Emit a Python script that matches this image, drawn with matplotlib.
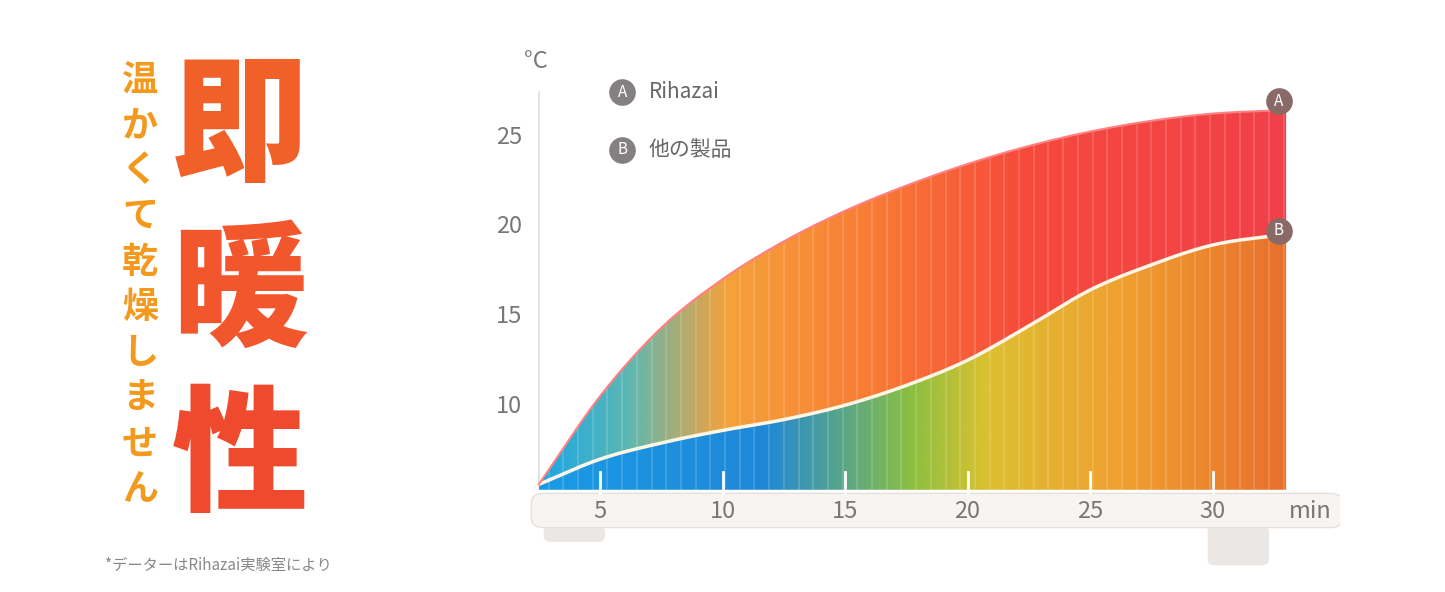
import numpy as np
import matplotlib.pyplot as plt
from matplotlib.colors import LinearSegmentedColormap
from matplotlib.patches import Polygon, FancyBboxPatch

plt.rcParams['font.family'] = ['Noto Sans CJK JP', 'DejaVu Sans']

# values (minutes, deg C)
t = [2.5, 5, 7.5, 10, 12.5, 15, 17.5, 20, 22.5, 25, 27.5, 30, 33]
rihazai = [5.7, 10.6, 14.4, 17.1, 19.2, 20.9, 22.3, 23.5, 24.5, 25.3, 25.9, 26.3, 26.5]
other = [5.7, 7.1, 8.0, 8.7, 9.3, 10.1, 11.2, 12.6, 14.5, 16.5, 17.9, 19.0, 19.6]
xticks = [5, 10, 15, 20, 25, 30]
yticks = [10, 15, 20, 25]

fig = plt.figure(figsize=(14.45, 5.92), dpi=100)
bg = fig.add_axes([0, 0, 1, 1])
bg.set_xlim(0, 1445)
bg.set_ylim(592, 0)
bg.axis('off')

# left side text
for i, ch in enumerate("温かくて乾燥しません"):
    bg.text(140, 80 + i * 45.5, ch, fontsize=26, fontweight='bold', color='#f39a1e',
            ha='center', va='center')
for i, ch in enumerate("即暖性"):
    bg.text(240, 130 + i * 165, ch, fontsize=98, fontweight='black',
            color=['#f2602a', '#f2562c', '#f04a2e'][i], ha='center', va='center')
bg.text(105, 565, "*データーはRihazai実験室により", fontsize=11, color='#888888', va='center')

# chart axes, mapped onto the picture region
ax = fig.add_axes([480 / 1445, 0, 860 / 1445, 552 / 592])
ax.set_xlim(0.1, 35.2)
ax.set_ylim(-0.28, 30.39)
ax.axis('off')

# smooth curves through the read values (cubic hermite)
def smooth(xs, ys, xn):
    xs, ys = np.asarray(xs, float), np.asarray(ys, float)
    h = np.diff(xs)
    d = np.diff(ys) / h
    m = np.r_[d[0], (d[:-1] + d[1:]) / 2, d[-1]]
    i = np.clip(np.searchsorted(xs, xn) - 1, 0, len(h) - 1)
    s = (xn - xs[i]) / h[i]
    h00 = 2 * s**3 - 3 * s**2 + 1
    h10 = s**3 - 2 * s**2 + s
    h01 = -2 * s**3 + 3 * s**2
    h11 = s**3 - s**2
    return h00 * ys[i] + h10 * h[i] * m[i] + h01 * ys[i + 1] + h11 * h[i] * m[i + 1]

ts = np.linspace(t[0], t[-1], 400)
ya = smooth(t, rihazai, ts)
yb = smooth(t, other, ts)
base = 5.4

cm_top = LinearSegmentedColormap.from_list('top', [(0, '#1aa6e6'), (0.12, '#5fb8b0'),
    (0.25, '#f5a23a'), (0.45, '#f97a35'), (0.65, '#f64a3c'), (1, '#f0404a')])
cm_low = LinearSegmentedColormap.from_list('low', [(0, '#1a9be6'), (0.3, '#1f88d8'),
    (0.5, '#8cc040'), (0.6, '#dcc030'), (0.78, '#f0a030'), (1, '#e8702c')])

grad = np.linspace(0, 1, 400).reshape(1, -1)
for cmap, upper, lower in [(cm_top, ya, yb), (cm_low, yb, np.full_like(yb, base))]:
    poly = Polygon(np.column_stack([np.r_[ts, ts[::-1]], np.r_[upper, lower[::-1]]]),
                   closed=True, facecolor='none', edgecolor='none')
    ax.add_patch(poly)
    im = ax.imshow(grad, cmap=cmap, extent=[t[0], t[-1], base, 27], aspect='auto',
                   interpolation='bicubic', zorder=2)
    im.set_clip_path(poly)
    # ribbed stripes
    for xs in np.arange(t[0] + 0.4, t[-1], 0.6):
        ln, = ax.plot([xs, xs], [base, 27], color='white', lw=1.2, alpha=0.18, zorder=3)
        ln.set_clip_path(poly)

ax.plot(ts, yb, color='#fff6e6', lw=2.5, zorder=4)
ax.plot(ts, ya, color='#ff8080', lw=1.5, zorder=4)

# axis line and labels
ax.plot([2.5, 2.5], [5.7, 27.5], color='#dddddd', lw=1.2, zorder=1)
for v in yticks:
    ax.text(1.3, v, str(v), fontsize=17, color='#777777', ha='center', va='center')
ax.text(2.4, 29.2, '°C', fontsize=17, color='#777777', ha='center', va='center')

# platform
ax.add_patch(FancyBboxPatch((2.2, 3.3), 33.1, 1.9, boxstyle='round,pad=0,rounding_size=0.5',
             facecolor='#f7f4f2', edgecolor='#e6e0dc', lw=1, zorder=5))
ax.add_patch(FancyBboxPatch((2.7, 2.5), 2.5, 0.9, boxstyle='round,pad=0,rounding_size=0.3',
             facecolor='#ebe7e4', edgecolor='none', zorder=4))
ax.add_patch(FancyBboxPatch((29.8, 1.2), 2.5, 2.2, boxstyle='round,pad=0,rounding_size=0.3',
             facecolor='#ebe7e4', edgecolor='none', zorder=4))
for x in xticks:
    ax.plot([x, x], [5.2, 6.4], color='white', lw=2, zorder=6)
    ax.text(x, 4.2, str(x), fontsize=17, color='#777777', ha='center', va='center', zorder=6)
ax.text(34.0, 4.2, 'min', fontsize=17, color='#777777', ha='center', va='center', zorder=6)

# end markers and legend
for xm, ym, lab in [(32.7, 27.0, 'A'), (32.7, 19.8, 'B')]:
    ax.scatter([xm], [ym], s=330, color='#8a6a66', zorder=7)
    ax.text(xm, ym, lab, fontsize=11, color='white', ha='center', va='center', zorder=8)
for ym, lab, name in [(27.5, 'A', 'Rihazai'), (24.3, 'B', '他の製品')]:
    ax.scatter([5.9], [ym], s=330, color='#858080', zorder=7)
    ax.text(5.9, ym, lab, fontsize=11, color='white', ha='center', va='center', zorder=8)
    ax.text(7.0, ym, name, fontsize=15, color='#666666', va='center')

fig.savefig('out.png', dpi=100)
